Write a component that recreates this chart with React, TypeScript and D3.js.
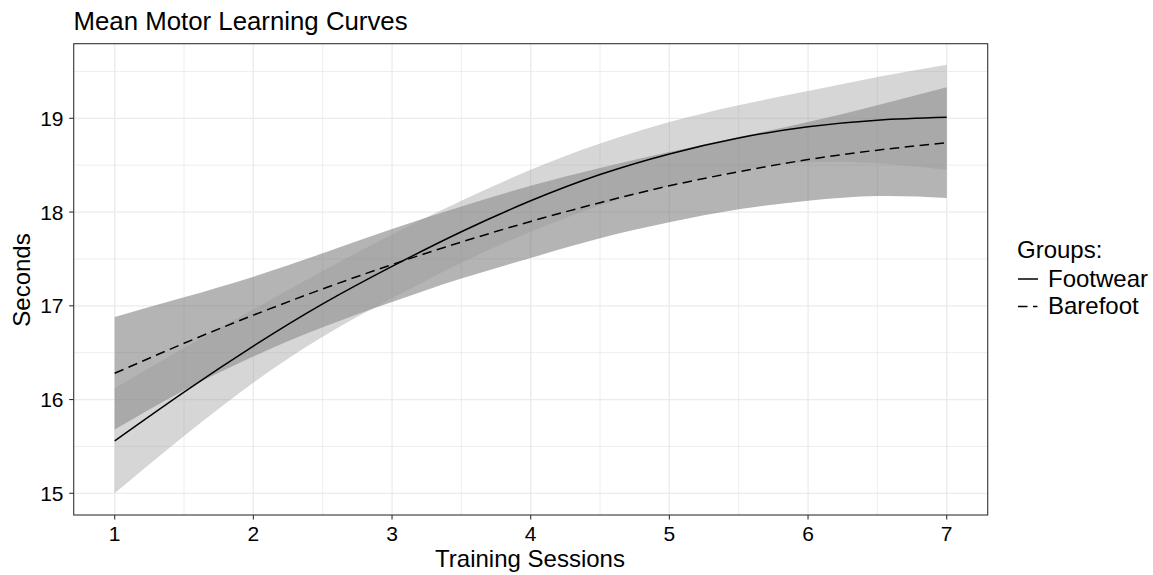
import React from "react";
import * as d3 from "d3";

const sessions = [1, 1.5, 2, 2.5, 3, 3.5, 4, 4.5, 5, 5.5, 6, 6.5, 7];

const footwearMean = [15.56, 16.08, 16.57, 17.02, 17.42, 17.79, 18.12, 18.4, 18.62, 18.79, 18.91, 18.98, 19.01];
const footwearLower = [15.0, 15.61, 16.18, 16.67, 17.08, 17.46, 17.79, 18.07, 18.28, 18.44, 18.53, 18.52, 18.45];
const footwearUpper = [16.12, 16.55, 16.96, 17.37, 17.76, 18.12, 18.45, 18.73, 18.96, 19.14, 19.29, 19.44, 19.57];

const barefootMean = [16.28, 16.6, 16.9, 17.18, 17.44, 17.68, 17.9, 18.1, 18.28, 18.43, 18.56, 18.66, 18.74];
const barefootLower = [15.68, 16.1, 16.46, 16.77, 17.04, 17.29, 17.51, 17.72, 17.89, 18.03, 18.12, 18.17, 18.15];
const barefootUpper = [16.88, 17.09, 17.31, 17.56, 17.82, 18.06, 18.28, 18.47, 18.64, 18.8, 18.96, 19.14, 19.33];

const xTicks = [1, 2, 3, 4, 5, 6, 7];
const xMinor = [1.5, 2.5, 3.5, 4.5, 5.5, 6.5];
const yTicks = [15, 16, 17, 18, 19];
const yMinor = [15.5, 16.5, 17.5, 18.5, 19.5];

const FONT = "'Liberation Sans', Arial, Helvetica, sans-serif";

export default function App() {
  const W = 1153;
  const H = 575;
  const panel = { left: 73.7, right: 987.7, top: 43.7, bottom: 515 };

  const x = d3.scaleLinear().domain([1, 7]).range([114.7, 946.7]);
  const y = d3.scaleLinear().domain([15, 19]).range([493.3, 118.3]);

  const idx = sessions.map((_, i) => i);
  const area = (lo: number[], hi: number[]) =>
    d3
      .area<number>()
      .x((i) => x(sessions[i]))
      .y0((i) => y(lo[i]))
      .y1((i) => y(hi[i]))
      .curve(d3.curveNatural)(idx) as string;
  const line = (m: number[]) =>
    d3
      .line<number>()
      .x((i) => x(sessions[i]))
      .y((i) => y(m[i]))
      .curve(d3.curveNatural)(idx) as string;

  const dash = "9.5,5.5";

  return (
    <svg
      width={W}
      height={H}
      style={{ position: "absolute", left: 0, top: 0, background: "#fff" }}
      fontFamily={FONT}
    >
      <rect x={0} y={0} width={W} height={H} fill="#fff" />
      <defs>
        <clipPath id="panel">
          <rect x={panel.left} y={panel.top} width={panel.right - panel.left} height={panel.bottom - panel.top} />
        </clipPath>
      </defs>
      <g>
        {xMinor.map((v) => (
          <line key={"xm" + v} x1={x(v)} x2={x(v)} y1={panel.top} y2={panel.bottom} stroke="#ebebeb" strokeWidth={0.9} />
        ))}
        {yMinor.map((v) => (
          <line key={"ym" + v} x1={panel.left} x2={panel.right} y1={y(v)} y2={y(v)} stroke="#ebebeb" strokeWidth={0.9} />
        ))}
        {xTicks.map((v) => (
          <line key={"xM" + v} x1={x(v)} x2={x(v)} y1={panel.top} y2={panel.bottom} stroke="#ebebeb" strokeWidth={1.3} />
        ))}
        {yTicks.map((v) => (
          <line key={"yM" + v} x1={panel.left} x2={panel.right} y1={y(v)} y2={y(v)} stroke="#ebebeb" strokeWidth={1.3} />
        ))}
      </g>
      <g clipPath="url(#panel)">
        <path d={area(barefootLower, barefootUpper)} fill="#666666" fillOpacity={0.49} />
        <path d={area(footwearLower, footwearUpper)} fill="#999999" fillOpacity={0.4} />
        <path d={line(footwearMean)} fill="none" stroke="#000" strokeWidth={1.5} />
        <path d={line(barefootMean)} fill="none" stroke="#000" strokeWidth={1.5} strokeDasharray={dash} />
      </g>
      <rect
        x={panel.left}
        y={panel.top}
        width={panel.right - panel.left}
        height={panel.bottom - panel.top}
        fill="none"
        stroke="#333"
        strokeWidth={1.1}
      />
      {xTicks.map((v) => (
        <g key={"xt" + v}>
          <line x1={x(v)} x2={x(v)} y1={panel.bottom} y2={panel.bottom + 4.5} stroke="#333" strokeWidth={1.1} />
          <text x={x(v)} y={540.7} textAnchor="middle" fontSize={21} fill="#000">
            {v}
          </text>
        </g>
      ))}
      {yTicks.map((v) => (
        <g key={"yt" + v}>
          <line x1={panel.left - 4.5} x2={panel.left} y1={y(v)} y2={y(v)} stroke="#333" strokeWidth={1.1} />
          <text x={63.5} y={y(v) + 7.5} textAnchor="end" fontSize={21} fill="#000">
            {v}
          </text>
        </g>
      ))}
      <text x={530} y={567} textAnchor="middle" fontSize={24} fill="#000">
        Training Sessions
      </text>
      <text transform="translate(30,280) rotate(-90)" textAnchor="middle" fontSize={24} fill="#000">
        Seconds
      </text>
      <text x={73.5} y={29.5} fontSize={25.8} fill="#000">
        Mean Motor Learning Curves
      </text>
      <text x={1017} y={258.3} fontSize={24} fill="#000">
        Groups:
      </text>
      <line x1={1018} x2={1038} y1={279} y2={279} stroke="#000" strokeWidth={1.5} />
      <text x={1048} y={286.7} fontSize={24} fill="#000">
        Footwear
      </text>
      <line x1={1018} x2={1037.5} y1={306.5} y2={306.5} stroke="#000" strokeWidth={1.5} strokeDasharray={dash} />
      <text x={1048} y={313.5} fontSize={24} fill="#000">
        Barefoot
      </text>
    </svg>
  );
}
